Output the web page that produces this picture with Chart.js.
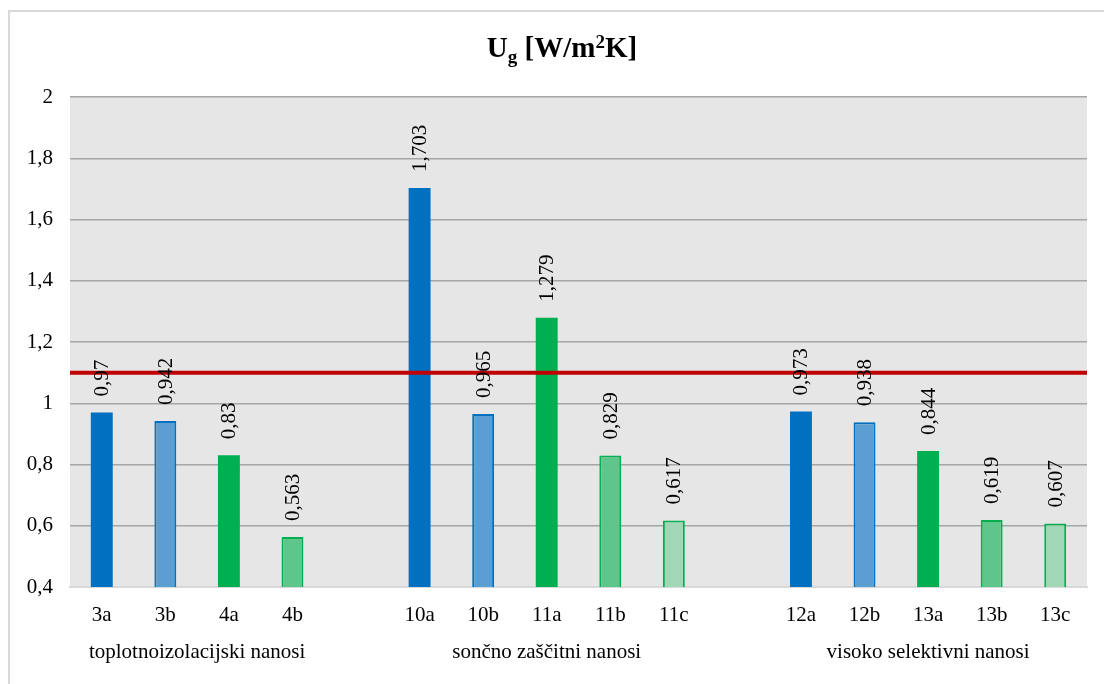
<!DOCTYPE html>
<html>
<head>
<meta charset="utf-8">
<script src="https://cdn.jsdelivr.net/npm/chart.js@4.4.1/dist/chart.umd.min.js"></script>
<style>
html,body{margin:0;padding:0;background:#fff;}
#wrap{width:1104px;height:684px;position:relative;}
</style>
</head>
<body>
<div id="wrap"><canvas id="c" width="1104" height="684"></canvas></div>
<script>
// ---- data ----
const categories = ['3a','3b','4a','4b','','10a','10b','11a','11b','11c','','12a','12b','13a','13b','13c'];
const ugValues   = [0.97,0.942,0.83,0.563,null,1.703,0.965,1.279,0.829,0.617,null,0.973,0.938,0.844,0.619,0.607];
const groupNames = ['toplotnoizolacijski nanosi','sončno zaščitni nanosi','visoko selektivni nanosi'];
const groupFirst = [0,5,11];
const groupLast  = [3,9,15];
const limitValue = 1.1;
const yMin = 0.4, yMax = 2, yStep = 0.2;

// ---- styles ----
const BLUE='#0070C0', BLUE2='#5B9FD2', GREEN='#00B050', GREEN2='#5EC68B', GREEN3='#A2D7B6';
const barFill   = [BLUE,BLUE2,GREEN,GREEN2,null,BLUE,BLUE2,GREEN,GREEN2,GREEN3,null,BLUE,BLUE2,GREEN,GREEN2,GREEN3];
const barBorder = [BLUE,BLUE,GREEN,GREEN,null,BLUE,BLUE,GREEN,GREEN,GREEN,null,BLUE,BLUE,GREEN,GREEN,GREEN];
const barBW     = [0,2,0,2,0,0,2,0,2,2,0,0,2,0,2,2];
const FONT = "'Liberation Serif','Times New Roman',serif";
const FS = 21;

const fmt = v => String(Math.round(v*1000)/1000).replace('.', ',');

const decor = {
  id:'decor',
  beforeDraw(chart){
    const {ctx, chartArea:a} = chart;
    ctx.save();
    ctx.fillStyle = '#fff';
    ctx.fillRect(0,0,chart.width,chart.height);
    ctx.fillStyle = '#E6E6E6';
    ctx.fillRect(a.left, a.top, a.right-a.left, a.bottom-a.top);
    // outer frame
    ctx.strokeStyle = '#D9D9D9';
    ctx.lineWidth = 2;
    ctx.beginPath();
    ctx.moveTo(9, chart.height+2);
    ctx.lineTo(9, 11);
    ctx.lineTo(chart.width+2, 11);
    ctx.stroke();
    // title
    const parts = [
      {t:'U', s:29, dy:0},
      {t:'g', s:19, dy:6},
      {t:' [W/m', s:29, dy:0},
      {t:'2', s:19, dy:-9},
      {t:'K]', s:29, dy:0}
    ];
    let w = 0;
    parts.forEach(p => { ctx.font = `bold ${p.s}px ${FONT}`; p.w = ctx.measureText(p.t).width; w += p.w; });
    let x = 562 - w/2;
    const base = 57;
    ctx.fillStyle = '#000';
    ctx.textBaseline = 'alphabetic';
    ctx.textAlign = 'left';
    parts.forEach(p => { ctx.font = `bold ${p.s}px ${FONT}`; ctx.fillText(p.t, x, base + p.dy); x += p.w; });
    ctx.restore();
  },
  afterDatasetsDraw(chart){
    const {ctx, chartArea:a, scales:{x, y}} = chart;
    ctx.save();
    // limit line
    const ly = y.getPixelForValue(limitValue);
    ctx.strokeStyle = '#C00000';
    ctx.lineWidth = 4;
    ctx.beginPath();
    ctx.moveTo(a.left, ly);
    ctx.lineTo(a.right, ly);
    ctx.stroke();
    // value labels
    const meta = chart.getDatasetMeta(0);
    ctx.font = `${FS}px ${FONT}`;
    ctx.fillStyle = '#000';
    ctx.textAlign = 'left';
    ctx.textBaseline = 'middle';
    meta.data.forEach((bar, i) => {
      const v = ugValues[i];
      if (v == null) return;
      ctx.save();
      ctx.translate(bar.x + 1, bar.y - 16);
      ctx.rotate(-Math.PI/2);
      ctx.fillText(fmt(v), 0, 0);
      ctx.restore();
    });
    // group labels
    ctx.textAlign = 'center';
    ctx.textBaseline = 'alphabetic';
    groupNames.forEach((g, k) => {
      const cx = (x.getPixelForValue(groupFirst[k]) + x.getPixelForValue(groupLast[k]))/2;
      ctx.fillText(g, cx, 658);
    });
    ctx.restore();
  }
};

new Chart(document.getElementById('c'), {
  type:'bar',
  data:{
    labels: categories,
    datasets:[{
      data: ugValues,
      backgroundColor: barFill,
      borderColor: barBorder,
      borderWidth: barBW,
      barPercentage: 0.345,
      categoryPercentage: 1
    }]
  },
  options:{
    responsive:false,
    animation:false,
    devicePixelRatio:1,
    layout:{padding:{top:97, right:17, left:0, bottom:0}},
    plugins:{legend:{display:false}, tooltip:{enabled:false}, title:{display:false}},
    scales:{
      x:{
        grid:{display:false, drawTicks:false},
        border:{display:true, color:'#D9D9D9', width:2},
        ticks:{font:{family:FONT, size:FS}, color:'#000', padding:16, maxRotation:0, autoSkip:false},
        afterFit(s){ s.height = 97; }
      },
      y:{
        min:yMin, max:yMax,
        grid:{color:c => (Math.abs(c.tick.value - yMin) < 1e-9 ? 'rgba(0,0,0,0)' : '#A6A6A6'), lineWidth:1.5, drawTicks:false},
        border:{display:false},
        ticks:{stepSize:yStep, font:{family:FONT, size:FS}, color:'#000', padding:17,
               callback:v => String(Math.round(v*10)/10).replace('.', ',')},
        afterFit(s){ s.width = 70; }
      }
    }
  },
  plugins:[decor]
});
</script>
</body>
</html>
